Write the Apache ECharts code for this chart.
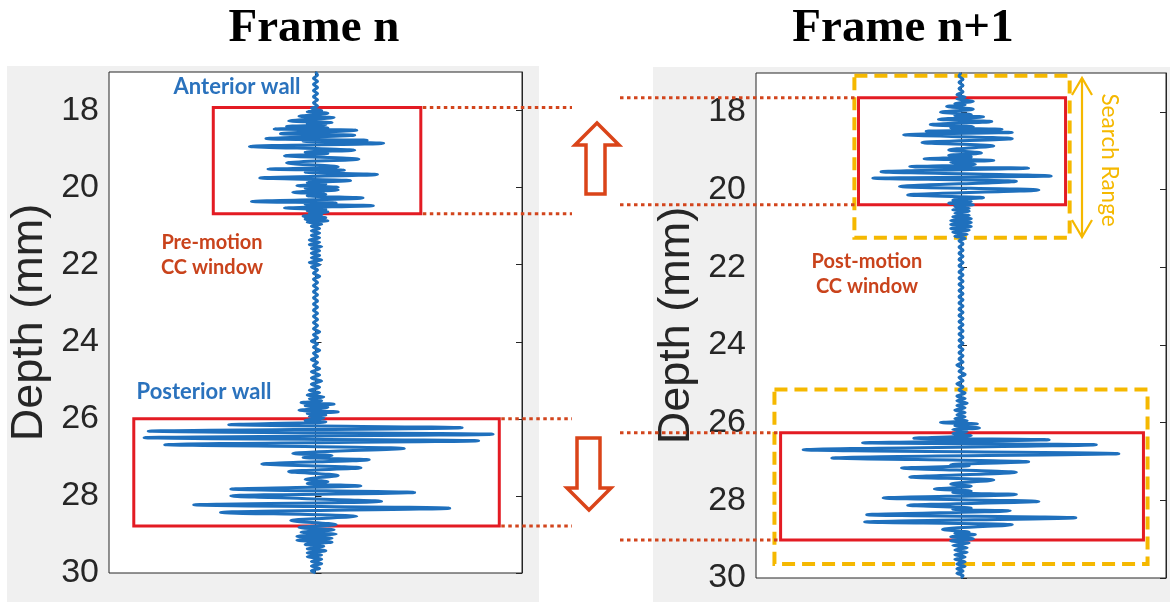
<!DOCTYPE html>
<html><head><meta charset="utf-8">
<script src="https://cdn.jsdelivr.net/npm/echarts@6/dist/echarts.min.js"></script>
<style>html,body{margin:0;padding:0;background:#fff}#c{width:1170px;height:602px}</style>
</head><body><div id="c"></div>
<script>
// Depth tick labels (mm)
const yTicks = [18, 20, 22, 24, 26, 28, 30];
const depthRange = [17, 30];
const titles = ['Frame n', 'Frame n+1'];

// RF A-line, frame n : [depth (mm), normalized amplitude]
const frameN = [
[17.00,0.00],[17.08,0.01],[17.16,-0.01],[17.24,0.01],[17.32,-0.01],[17.40,0.01],[17.48,-0.01],[17.56,0.01],[17.64,-0.01],[17.72,0.01],[17.80,-0.01],[17.88,0.01],[17.94,-0.02],
[18.00,0.03],[18.03,-0.04],[18.07,0.06],[18.15,-0.08],[18.18,0.09],[18.27,-0.13],[18.31,0.08],[18.34,-0.04],[18.37,0.05],[18.41,-0.14],[18.45,0.06],[18.48,-0.20],[18.51,0.20],[18.60,-0.17],[18.64,0.19],[18.73,-0.24],[18.77,0.25],[18.80,-0.06],[18.85,0.33],[18.93,-0.32],[19.03,0.19],[19.08,-0.05],[19.12,0.06],[19.17,-0.15],[19.26,0.21],[19.36,-0.14],[19.46,0.11],[19.52,-0.23],[19.55,0.14],[19.60,-0.05],[19.66,0.30],[19.75,-0.27],[19.82,0.17],[19.87,-0.04],[19.91,0.05],[19.95,-0.09],[19.99,0.11],[20.02,-0.05],[20.06,0.11],[20.12,-0.11],[20.17,0.05],[20.21,-0.04],[20.27,0.23],[20.36,-0.31],[20.40,0.10],[20.43,-0.05],[20.47,0.28],[20.53,-0.15],[20.57,0.05],[20.60,-0.04],[20.63,0.06],
[20.67,-0.03],[20.70,0.03],[20.74,-0.06],[20.78,0.05],[20.82,-0.05],[20.86,0.06],[20.90,-0.04],[20.95,0.03],[21.00,-0.02],[21.06,0.02],[21.12,-0.02],[21.18,0.02],[21.24,-0.02],[21.30,0.02],[21.36,-0.03],[21.42,0.02],[21.48,-0.03],[21.53,0.03],[21.58,-0.02],[21.64,0.02],[21.70,-0.02],[21.76,0.02],[21.82,-0.02],[21.88,0.03],[21.94,-0.03],[22.00,0.02],[22.06,-0.02],[22.14,0.01],[22.22,-0.01],[22.30,0.02],[22.38,-0.01],[22.46,0.01],[22.54,-0.01],[22.62,0.01],[22.70,-0.01],[22.78,0.01],[22.86,-0.01],[22.94,0.01],[23.02,-0.01],[23.10,0.01],[23.18,-0.01],[23.26,0.01],[23.34,-0.01],[23.42,0.01],[23.50,-0.01],[23.58,0.01],[23.66,-0.01],[23.74,0.02],[23.82,-0.01],[23.90,0.01],[23.98,-0.02],[24.06,0.01],[24.14,-0.01],[24.22,0.02],[24.30,-0.01],[24.38,0.01],[24.46,-0.02],[24.54,0.01],[24.62,-0.01],[24.70,0.02],[24.78,-0.02],[24.86,0.02],[24.94,-0.02],[25.02,0.03],[25.10,-0.02],[25.18,0.02],[25.26,-0.03],[25.32,0.02],[25.38,-0.04],[25.43,0.04],[25.48,-0.03],[25.53,0.03],[25.58,-0.07],[25.62,0.09],[25.66,-0.05],[25.70,0.06],[25.78,-0.08],[25.82,0.11],[25.86,-0.04],[25.90,0.05],[25.94,-0.03],[25.98,0.04],[26.04,-0.05],[26.08,0.05],
[26.15,-0.42],[26.23,0.71],[26.32,-0.81],[26.40,0.86],[26.49,-0.83],[26.57,0.79],[26.67,-0.73],[26.77,0.43],[26.90,-0.11],[26.95,0.08],[27.00,-0.06],[27.06,0.26],[27.17,-0.26],[27.27,0.22],[27.37,-0.13],[27.47,0.11],[27.57,-0.05],[27.63,0.06],[27.68,-0.04],[27.74,0.22],[27.82,-0.41],[27.91,0.48],[28.00,-0.41],[28.14,0.32],[28.23,-0.59],[28.32,0.65],[28.43,-0.46],[28.53,0.20],[28.64,-0.12],[28.74,0.10],[28.82,-0.08],[28.88,0.09],[28.94,-0.07],[28.99,0.10],[29.05,-0.09],[29.10,0.08],[29.15,-0.09],[29.20,0.08],[29.26,-0.05],[29.31,0.04],[29.37,-0.04],[29.42,0.05],[29.48,-0.04],[29.53,0.03],[29.58,-0.04],[29.64,0.03],[29.70,-0.02],[29.76,0.03],[29.82,-0.02],[29.88,0.02],[29.94,-0.02],[30.00,0.00]
];

// RF A-line, frame n+1 : [depth (mm), normalized amplitude]
const frameN1 = [
[17.00,0.00],[17.08,-0.01],[17.16,0.01],[17.24,-0.01],[17.32,0.01],[17.40,-0.01],[17.48,0.01],[17.56,-0.02],[17.62,0.02],[17.67,-0.02],
[17.73,0.06],[17.79,-0.03],[17.82,0.02],[17.86,-0.07],[17.93,0.06],[18.01,-0.10],[18.07,0.05],[18.10,-0.03],[18.13,0.11],[18.19,-0.11],[18.25,0.15],[18.33,-0.15],[18.38,0.06],[18.41,-0.05],[18.45,0.20],[18.50,-0.17],[18.53,0.25],[18.59,-0.28],[18.69,0.25],[18.79,-0.19],[18.88,0.16],[18.98,-0.06],[19.06,0.10],[19.12,-0.06],[19.16,0.05],[19.21,-0.18],[19.25,0.16],[19.30,-0.05],[19.35,0.07],[19.41,-0.25],[19.45,0.33],[19.54,-0.39],[19.65,0.44],[19.71,-0.43],[19.79,0.27],[19.92,-0.30],[20.01,0.38],[20.14,-0.26],[20.21,0.11],[20.27,-0.04],[20.31,0.05],[20.35,-0.06],[20.39,0.06],[20.44,-0.03],[20.48,0.04],[20.52,-0.04],[20.56,0.04],[20.61,-0.03],[20.66,0.04],[20.70,-0.04],[20.75,0.05],[20.80,-0.05],[20.85,0.05],[20.90,-0.05],[20.95,0.05],[21.00,-0.05],[21.05,0.04],[21.10,-0.04],[21.15,0.03],[21.20,-0.03],[21.26,0.02],[21.32,-0.01],
[21.40,0.01],[21.48,-0.01],[21.56,0.01],[21.64,-0.01],[21.72,0.01],[21.80,-0.01],[21.88,0.01],[21.96,-0.01],[22.04,0.01],[22.12,-0.01],[22.20,0.01],[22.28,-0.01],[22.36,0.01],[22.44,-0.01],[22.52,0.01],[22.60,-0.01],[22.68,0.01],[22.76,-0.01],[22.84,0.01],[22.92,-0.01],[23.00,0.01],[23.08,-0.01],[23.16,0.01],[23.24,-0.01],[23.32,0.01],[23.40,-0.01],[23.48,0.01],[23.56,-0.01],[23.64,0.01],[23.72,-0.01],[23.80,0.01],[23.88,-0.01],[23.96,0.01],[24.04,-0.01],[24.12,0.01],[24.20,-0.01],[24.28,0.01],[24.36,-0.01],[24.44,0.01],[24.52,-0.02],[24.60,0.01],[24.68,-0.01],[24.76,0.02],[24.84,-0.01],[24.92,0.01],[25.00,-0.02],[25.08,0.01],[25.16,-0.01],[25.24,0.02],[25.32,-0.02],[25.38,0.02],[25.44,-0.02],[25.50,0.03],[25.56,-0.02],[25.62,0.02],[25.68,-0.03],[25.74,0.02],[25.80,-0.02],[25.85,0.02],[25.90,-0.03],[25.95,0.03],
[26.00,-0.10],[26.03,0.08],[26.08,-0.03],[26.14,0.09],[26.18,-0.04],[26.23,0.03],[26.28,-0.04],[26.33,0.05],[26.40,-0.23],[26.44,0.43],[26.52,-0.48],[26.57,0.66],[26.70,-0.77],[26.80,0.77],[26.91,-0.63],[27.01,0.33],[27.08,-0.05],[27.11,0.04],[27.17,-0.29],[27.28,0.27],[27.40,-0.25],[27.48,0.16],[27.58,-0.05],[27.64,0.05],[27.71,-0.13],[27.76,0.05],[27.80,-0.04],[27.85,0.27],[27.94,-0.38],[28.03,0.38],[28.13,-0.26],[28.20,0.05],[28.23,-0.04],[28.27,0.24],[28.37,-0.46],[28.45,0.56],[28.56,-0.47],[28.63,0.25],[28.75,-0.09],[28.82,0.04],[28.85,-0.03],[28.88,0.07],[28.94,-0.05],[28.99,0.06],[29.04,-0.05],[29.10,0.04],[29.16,-0.04],[29.22,0.03],[29.28,-0.03],[29.34,0.03],[29.40,-0.03],[29.46,0.02],[29.52,-0.03],[29.58,0.02],[29.64,-0.02],[29.70,0.02],[29.76,-0.02],[29.82,0.01],[29.88,-0.02],[29.94,0.01],[30.00,0.00]
];

// CC windows and search ranges: [ampLeft, depthTop, ampRight, depthBottom]
const preAnteriorWin  = [-0.495, 17.92, 0.51, 20.68];
const prePosteriorWin = [-0.88, 26.00, 0.89, 28.78];
const postAnteriorWin = [-0.50, 17.64, 0.51, 20.39];
const postPosteriorWin= [-0.88, 26.26, 0.89, 29.02];
const searchAnterior  = [-0.52, 17.07, 0.53, 21.24];
const searchPosterior = [-0.91, 25.15, 0.91, 29.64];

const BLUE = '#1f70bd', RED = '#e31b23', ORANGE = '#d2451d', GOLD = '#f5b800', AX = '#262626';

function area(b, dashed) {
  return [{ coord: [b[0], b[1]], itemStyle: dashed
      ? { color: 'rgba(0,0,0,0)', borderColor: GOLD, borderWidth: 4, borderType: [13, 7] }
      : { color: 'rgba(0,0,0,0)', borderColor: RED, borderWidth: 3 } },
    { coord: [b[2], b[3]] }];
}

const grids = [
  { left: 109, top: 72, width: 413, height: 501 },
  { left: 756, top: 73, width: 410, height: 505 }
];

function yAx(gi, pos) {
  const main = pos === 'left';
  return {
    type: 'value', gridIndex: gi, position: pos, inverse: true,
    min: depthRange[0], max: depthRange[1],
    name: main ? 'Depth (mm)' : '', nameLocation: 'middle', nameGap: 57, nameRotate: 90,
    nameTextStyle: { fontSize: 45, fontFamily: 'Liberation Sans', color: AX },
    axisLine: { show: true, lineStyle: { color: AX, width: 1 } },
    axisTick: { show: true, inside: true, length: 6, customValues: yTicks, lineStyle: { color: AX } },
    axisLabel: { show: main, customValues: yTicks, fontSize: 34, fontFamily: 'Liberation Sans', color: AX, margin: 10 },
    splitLine: { show: false }
  };
}

const lineStyle = { color: BLUE, width: 3 };
const chart = echarts.init(document.getElementById('c'), null, { renderer: 'canvas' });
chart.setOption({
  animation: false,
  backgroundColor: '#fff',
  grid: grids.map(g => Object.assign({ show: true, backgroundColor: '#fff', borderColor: AX, borderWidth: 1, containLabel: false }, g)),
  xAxis: [0, 1].map(i => ({ type: 'value', gridIndex: i, min: -1, max: 1, show: false })),
  yAxis: [yAx(0, 'left'), yAx(0, 'right'), yAx(1, 'left'), yAx(1, 'right')],
  series: [
    { type: 'line', xAxisIndex: 0, yAxisIndex: 0, data: frameN.map(d => [d[1], d[0]]), showSymbol: false,
      smooth: 0.3, lineStyle, z: 3,
      markArea: { silent: true, data: [area(preAnteriorWin), area(prePosteriorWin)] } },
    { type: 'line', xAxisIndex: 1, yAxisIndex: 2, data: frameN1.map(d => [d[1], d[0]]), showSymbol: false,
      smooth: 0.3, lineStyle, z: 3,
      markArea: { silent: true, data: [area(postAnteriorWin), area(postPosteriorWin), area(searchAnterior, true), area(searchPosterior, true)] } }
  ]
});

// annotations positioned from the data scales
const p0 = (a, d) => chart.convertToPixel({ gridIndex: 0 }, [a, d]);
const p1 = (a, d) => chart.convertToPixel({ gridIndex: 1 }, [a, d]);
const dot = (x1, y1, x2, y2) => ({ type: 'line', z: 50, shape: { x1, y1, x2, y2 },
  style: { stroke: ORANGE, lineWidth: 3, lineDash: [3.5, 3.5] } });
const txt = (t, x, y, fill, font, extra) => Object.assign({ type: 'text', z: 60, x, y,
  style: { text: t, fill, font, align: 'center', verticalAlign: 'middle' } }, extra || {});

const g = [];
g.push({ type: 'rect', z: -10, shape: { x: 7, y: 66, width: 532, height: 536 }, style: { fill: '#f0f0f0' } });
g.push({ type: 'rect', z: -10, shape: { x: 653, y: 67, width: 517, height: 535 }, style: { fill: '#f0f0f0' } });

// dotted guide lines
[preAnteriorWin[1], preAnteriorWin[3], prePosteriorWin[1], prePosteriorWin[3]].forEach((d, i) => {
  const b = i < 2 ? preAnteriorWin : prePosteriorWin;
  const s = p0(b[2], d);
  g.push(dot(s[0] + 2, s[1], 572, s[1]));
});
[postAnteriorWin[1], postAnteriorWin[3], postPosteriorWin[1], postPosteriorWin[3]].forEach((d, i) => {
  const b = i < 2 ? postAnteriorWin : postPosteriorWin;
  const s = p1(b[0], d);
  g.push(dot(620, s[1], s[0] - 2, s[1]));
});

// motion arrows
g.push({ type: 'polygon', z: 50, shape: { points: [[597,123],[619,145],[605,145],[605,194],[586,194],[586,145],[575,145]] },
  style: { fill: '#fff', stroke: '#da4419', lineWidth: 3.5 } });
g.push({ type: 'polygon', z: 50, shape: { points: [[577,438],[600,438],[600,488],[611,488],[589,510],[567,488],[577,488]] },
  style: { fill: '#fff', stroke: '#da4419', lineWidth: 3.5 } });

// search range arrow
const sa = { stroke: GOLD, lineWidth: 2.2, fill: null };
g.push({ type: 'line', z: 50, shape: { x1: 1082, y1: 78, x2: 1082, y2: 237 }, style: sa });
g.push({ type: 'polyline', z: 50, shape: { points: [[1072,95],[1082,78],[1092,95]] }, style: sa });
g.push({ type: 'polyline', z: 50, shape: { points: [[1072,220],[1082,237],[1092,220]] }, style: sa });
g.push(txt('Search Range', 1109, 160, GOLD, '22.5px Lato', { rotation: -Math.PI / 2 }));

// titles
g.push(txt(titles[0], 314, 29, '#000', 'bold 47px "Liberation Serif"'));
g.push(txt(titles[1], 903, 29, '#000', 'bold 47px "Liberation Serif"'));

// labels
g.push(txt('Anterior wall', 237, 87, '#2a72bd', 'bold 22px Lato'));
g.push(txt('Posterior wall', 204, 392, '#2a72bd', 'bold 22px Lato'));
g.push(txt('Pre-motion', 212, 243, '#c9431c', 'bold 20px Lato'));
g.push(txt('CC window', 212, 268, '#c9431c', 'bold 20px Lato'));
g.push(txt('Post-motion', 867, 262, '#c9431c', 'bold 20px Lato'));
g.push(txt('CC window', 867, 287, '#c9431c', 'bold 20px Lato'));

chart.setOption({ graphic: g });
</script></body></html>
